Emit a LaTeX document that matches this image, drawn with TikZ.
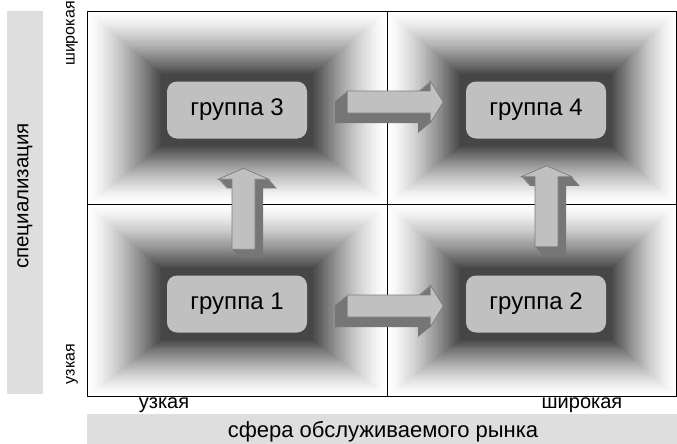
\documentclass[tikz,border=0pt]{standalone}
\usepackage{fontspec}
\setmainfont{Liberation Sans}
\definecolor{qdark}{RGB}{70,70,70}
\definecolor{boxgray}{RGB}{192,192,192}
\definecolor{bargray}{RGB}{222,222,222}
\definecolor{sidegray}{RGB}{118,118,118}
\definecolor{edgegray}{RGB}{125,125,125}

% rectangular path gradient: white outer frame (#1,#2)-(#3,#4)
% fading to dark inner rectangle centred on (#5,#6)
\newcommand\quadshade[6]{%
  \foreach \i in {0,...,60}{%
    \pgfmathsetmacro\tt{\i/60}%
    \pgfmathsetmacro\pc{100*(\tt^1.4)}%
    \fill[qdark!\pc!white]
      ({#1+\tt*(#5-76-(#1))},{#2+\tt*(#6-36-(#2))}) rectangle
      ({#3+\tt*(#5+76-(#3))},{#4+\tt*(#6+36-(#4))});
  }%
}

\tikzset{
  grp/.style={rounded corners=10pt, fill=boxgray, minimum width=140pt,
    minimum height=57pt, inner sep=0pt, font=\fontsize{24}{28}\selectfont},
  sidelabel/.style={font=\fontsize{16}{19}\selectfont, inner sep=0pt},
  bottomlabel/.style={font=\fontsize{20}{23}\selectfont, inner sep=0pt},
  axistitle/.style={font=\fontsize{20.5}{24}\selectfont, inner sep=0pt},
  xtitle/.style={font=\fontsize{22}{26}\selectfont, inner sep=0pt},
  arrowside/.style={fill=sidegray},
  arrowfront/.style={fill=boxgray, draw=edgegray, line width=0.7pt, line join=miter},
  harrow/.pic={
    \foreach \k in {0,...,16}{
      \fill[arrowside, shift={({-12*\k/16},{10*\k/16})}]
        (0,-11) -- (83,-11) -- (83,-21) -- (96,0) -- (83,21) -- (83,11) -- (0,11) -- cycle;
    }
    \filldraw[arrowfront]
      (0,-11) -- (83,-11) -- (83,-21) -- (96,0) -- (83,21) -- (83,11) -- (0,11) -- cycle;
  },
  varrow/.pic={
    \foreach \k in {0,...,16}{
      \fill[arrowside, shift={({8*\k/16},{9*\k/16})}]
        (-11.5,0) -- (-11.5,-70) -- (-25.5,-70) -- (0,-81) -- (25.5,-70) -- (11.5,-70) -- (11.5,0) -- cycle;
    }
    \filldraw[arrowfront]
      (-11.5,0) -- (-11.5,-70) -- (-25.5,-70) -- (0,-81) -- (25.5,-70) -- (11.5,-70) -- (11.5,0) -- cycle;
  }
}

\begin{document}
\begin{tikzpicture}[x=1pt,y=-1pt]
\useasboundingbox (0,0) rectangle (677,444);

% shaded quadrants
\quadshade{87}{11}{387}{204}{237}{110}
\quadshade{387}{11}{676}{204}{536}{110}
\quadshade{87}{204}{387}{396}{237}{304}
\quadshade{387}{204}{676}{396}{536}{304}

% frame and dividing lines
\draw[line width=0.9pt] (87,11) rectangle (676,396);
\draw[line width=0.9pt] (387,11) -- (387,396);
\draw[line width=0.9pt] (87,204) -- (676,204);

% axis bars
\fill[bargray] (7,11) rectangle (43,394);
\fill[bargray] (87,414) rectangle (677,444);

% groups
\node[grp] (g3) at (237,110) {группа 3};
\node[grp] (g4) at (536,110) {группа 4};
\node[grp] (g1) at (237,304) {группа 1};
\node[grp] (g2) at (536,304) {группа 2};

% block arrows between groups
\pic (a34) at ([shift={(40,-8)}]g3.east) {harrow};
\pic (a12) at ([shift={(40,2)}]g1.east) {harrow};
\pic (a13) at ([shift={(6.5,-26)}]g1.north) {varrow};
\pic (a24) at ([shift={(10.5,-28.5)}]g2.north) {varrow};

% axis labels
\node[axistitle, rotate=90] (yt) at (25,196) {специализация};
\node[sidelabel, rotate=90, anchor=west] (yhi) at (72,66) {широкая};
\node[sidelabel, rotate=90] (ylo) at (72,364) {узкая};
\node[bottomlabel] (xlo) at (164,405) {узкая};
\node[bottomlabel] (xhi) at (582,405) {широкая};
\node[xtitle] (xt) at (383,432) {сфера обслуживаемого рынка};
\end{tikzpicture}
\end{document}
